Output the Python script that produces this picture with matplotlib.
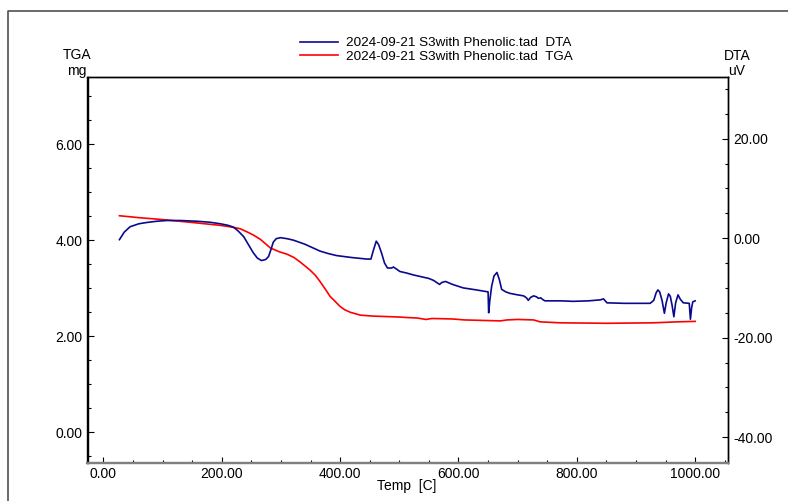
import matplotlib
matplotlib.use("Agg")
import matplotlib.pyplot as plt
from matplotlib.lines import Line2D
from matplotlib.ticker import MultipleLocator, FormatStrFormatter

plt.rcParams['font.family'] = ['Liberation Sans', 'DejaVu Sans']

# TGA curve (mg) vs temperature (C)
tga_temp = [27, 60, 100, 150, 197, 214, 231, 245, 253, 265, 282, 297, 310, 322,
            332, 341, 349, 358, 366, 375, 383, 392, 400, 408, 417, 434, 455,
            479, 501, 513, 530, 545, 555, 590, 610, 640, 671, 682, 700, 727,
            738, 772, 851, 929, 970, 1000]
tga_mg = [4.51, 4.47, 4.43, 4.37, 4.31, 4.28, 4.24, 4.16, 4.11, 4.02, 3.84, 3.76,
          3.71, 3.64, 3.55, 3.46, 3.38, 3.27, 3.14, 2.98, 2.83, 2.72, 2.62, 2.55,
          2.50, 2.44, 2.42, 2.41, 2.40, 2.39, 2.38, 2.35, 2.37, 2.36, 2.34, 2.33,
          2.32, 2.34, 2.35, 2.34, 2.30, 2.28, 2.27, 2.28, 2.30, 2.31]

# DTA curve (uV) vs temperature (C)
dta_temp = [27, 35, 45, 60, 73, 90, 107, 130, 158, 180, 197, 210, 220, 228, 237,
            245, 253, 260, 267, 274, 279, 283, 287, 292, 299, 310, 321, 340, 366,
            380, 394, 420, 445, 452, 456, 461, 465, 470, 475, 480, 487, 490, 495,
            501, 512, 524, 535, 550, 558, 563, 568, 572, 578, 590, 608, 630, 645,
            650, 651, 653, 656, 660, 665, 669, 673, 680, 687, 700, 710, 715, 718,
            722, 727, 732, 735, 739, 742, 746, 772, 794, 820, 840, 845, 851, 880,
            924, 930, 934, 937, 940, 944, 948, 951, 955, 958, 961, 964, 967, 971,
            975, 980, 990, 992, 994, 996, 1000]
dta_uv = [-0.3, 1.2, 2.3, 2.9, 3.15, 3.4, 3.55, 3.55, 3.4, 3.2, 2.9, 2.6, 2.2, 1.4,
          0.3, -1.3, -2.9, -4.0, -4.5, -4.3, -3.7, -2.3, -0.8, -0.1, 0.1, -0.1,
          -0.4, -1.2, -2.6, -3.1, -3.5, -3.9, -4.2, -4.2, -2.5, -0.6, -1.3, -3.0,
          -5.0, -6.0, -6.0, -5.8, -6.2, -6.7, -7.0, -7.4, -7.7, -8.1, -8.5, -8.9,
          -9.3, -8.9, -8.7, -9.3, -10.0, -10.4, -10.7, -10.8, -15.0, -12.5, -9.7,
          -7.6, -6.9, -8.3, -10.3, -10.8, -11.1, -11.4, -11.6, -12.0, -12.5, -11.9,
          -11.6, -11.8, -12.1, -12.0, -12.3, -12.6, -12.6, -12.7, -12.6, -12.4,
          -12.2, -13.0, -13.1, -13.1, -12.5, -11.0, -10.4, -10.8, -12.5, -15.1,
          -13.0, -11.2, -11.7, -13.5, -15.8, -13.0, -11.4, -12.3, -13.0, -13.1,
          -16.3, -14.0, -12.8, -12.6]

dta_label = "2024-09-21 S3with Phenolic.tad  DTA"
tga_label = "2024-09-21 S3with Phenolic.tad  TGA"

W, H = 788, 501
fig = plt.figure(figsize=(W / 100, H / 100), dpi=100)

# frame around the plot window
fig.add_artist(Line2D([8 / W, 8 / W, 1], [0, 1 - 11 / H, 1 - 11 / H],
                      color='#505050', lw=1.2, transform=fig.transFigure))

left, right, top, bottom = 87.5, 728.3, 77, 463
ax = fig.add_axes([left / W, 1 - bottom / H, (right - left) / W, (bottom - top) / H])
ax2 = ax.twinx()

red = '#ff0000'
navy = '#0a0a8c'
ax.plot(tga_temp, tga_mg, color=red, lw=1.2)
ax2.plot(dta_temp, dta_uv, color=navy, lw=1.2)

ax.set_xlim(-27, 1056)
ax.set_ylim(-0.64, 7.40)
ax2.set_ylim(-45.2, 32.4)

ax.xaxis.set_major_locator(MultipleLocator(200))
ax.xaxis.set_minor_locator(MultipleLocator(50))
ax.yaxis.set_major_locator(MultipleLocator(2))
ax.yaxis.set_minor_locator(MultipleLocator(0.5))
ax2.yaxis.set_major_locator(MultipleLocator(20))
ax2.yaxis.set_minor_locator(MultipleLocator(5))
for a in (ax.xaxis, ax.yaxis, ax2.yaxis):
    a.set_major_formatter(FormatStrFormatter('%.2f'))

ax.tick_params(which='both', direction='in', labelsize=10, width=0.8)
ax.tick_params(which='major', length=4)
ax.tick_params(which='minor', length=2.2)
ax.tick_params(axis='x', pad=3)
ax2.tick_params(which='both', direction='in', labelsize=10, width=0.8)
ax2.tick_params(which='major', length=4)
ax2.tick_params(which='minor', length=2.2)

for a in (ax, ax2):
    a.spines['bottom'].set_color('#808080')
    a.spines['bottom'].set_linewidth(1.6)
    a.spines['top'].set_linewidth(1.0)
    a.spines['left'].set_linewidth(1.0)
    a.spines['right'].set_linewidth(1.0)

fig.text(77 / W, 1 - 55 / H, "TGA", ha='center', va='center', fontsize=10)
fig.text(77 / W, 1 - 71 / H, "mg", ha='center', va='center', fontsize=10)
fig.text(737 / W, 1 - 56 / H, "DTA", ha='center', va='center', fontsize=10)
fig.text(737 / W, 1 - 71 / H, "uV", ha='center', va='center', fontsize=10)
fig.text(407 / W, 1 - 486 / H, "Temp  [C]", ha='center', va='center', fontsize=10)

handles = [Line2D([], [], color=navy, lw=1.2), Line2D([], [], color=red, lw=1.2)]
fig.legend(handles, [dta_label, tga_label], loc='upper left',
           bbox_to_anchor=(300 / W, 1 - 37 / H), frameon=False, fontsize=9.7,
           handlelength=2.8, handletextpad=0.6, labelspacing=0.1,
           borderpad=0, borderaxespad=0)

fig.savefig('out.png', dpi=100)
